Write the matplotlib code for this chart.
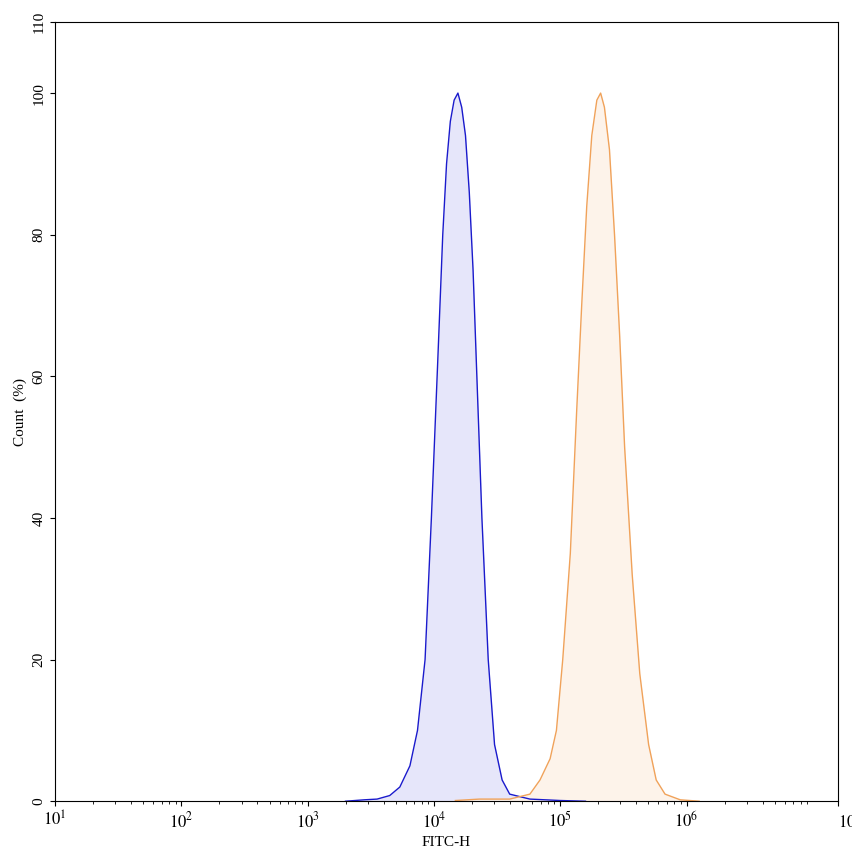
import numpy as np
import matplotlib.pyplot as plt
from matplotlib.ticker import FixedLocator, LogLocator, NullFormatter

plt.rcParams['font.family'] = ['Liberation Serif', 'DejaVu Serif']
plt.rcParams['mathtext.fontset'] = 'stix'

# log10(FITC-H) and count (%)
blue_log = [3.3, 3.45, 3.55, 3.65, 3.73, 3.81, 3.87, 3.93, 3.98, 4.03, 4.07, 4.10, 4.13, 4.16, 4.19,
            4.22, 4.25, 4.28, 4.31, 4.34, 4.38, 4.43, 4.48, 4.54, 4.60, 4.76, 5.0, 5.2]
blue_cnt = [0.0, 0.2, 0.3, 0.8, 2, 5, 10, 20, 40, 62, 80, 90, 96, 99, 100,
            98, 94, 86, 75, 60, 40, 20, 8, 3, 1, 0.3, 0.1, 0.0]

orange_log = [4.17, 4.36, 4.6, 4.76, 4.84, 4.92, 4.97, 5.02, 5.08, 5.13, 5.17, 5.21, 5.25, 5.29,
              5.32, 5.35, 5.39, 5.43, 5.47, 5.51, 5.57, 5.63, 5.70, 5.76, 5.83, 5.95, 6.1]
orange_cnt = [0.1, 0.3, 0.3, 1, 3, 6, 10, 20, 35, 55, 70, 84, 94, 99,
              100, 98, 92, 80, 66, 50, 32, 18, 8, 3, 1, 0.2, 0.0]

tick_exp = [1, 2, 3, 4, 5, 6, 7.2]
tick_lbl = ['$10^{1}$', '$10^{2}$', '$10^{3}$', '$10^{4}$', '$10^{5}$', '$10^{6}$', '$10^{7.2}$']

fig = plt.figure(figsize=(8.53, 8.56), dpi=100)
ax = fig.add_axes([0.0645, 0.064, 0.918, 0.910])

bx = 10 ** np.array(blue_log)
ox = 10 ** np.array(orange_log)
ax.fill_between(bx, blue_cnt, color='#e6e6fa', lw=0)
ax.plot(bx, blue_cnt, color='#1a1acc', lw=1)
ax.fill_between(ox, orange_cnt, color='#fdf3ea', lw=0)
ax.plot(ox, orange_cnt, color='#f0a25a', lw=1)

ax.set_xscale('log')
ax.set_xlim(10, 10 ** 7.2)
ax.set_ylim(0, 110)
ax.xaxis.set_major_locator(FixedLocator([10 ** e for e in tick_exp]))
ax.set_xticklabels(tick_lbl)
ax.xaxis.set_minor_locator(LogLocator(base=10, subs=np.arange(2, 10), numticks=20))
ax.xaxis.set_minor_formatter(NullFormatter())
ax.set_yticks([0, 20, 40, 60, 80, 100, 110])
ax.tick_params(axis='y', labelrotation=90)
for t in ax.get_yticklabels():
    t.set_va('center')
ax.tick_params(labelsize=11)
ax.tick_params(axis='x', labelsize=12)
ax.get_xticklabels()[-1].set_ha('left')
ax.get_xticklabels()[-1].set_x(10 ** 7.2)
ax.set_xlabel('FITC-H', fontsize=11)
ax.set_ylabel('Count  (%)', fontsize=11)

fig.savefig('out.png', dpi=100)
